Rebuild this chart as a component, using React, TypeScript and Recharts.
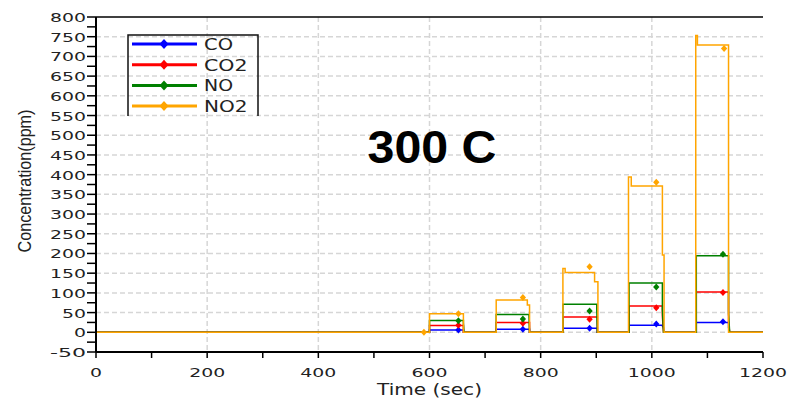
import React from 'react';
import { ComposedChart, Line, Scatter, XAxis, YAxis, CartesianGrid, ReferenceLine, Legend } from 'recharts';

const seriesNames = ['CO', 'CO2', 'NO', 'NO2'];
const seriesColors = ['#0000ff', '#ff0000', '#008000', '#ffa500'];

// step traces: [time (sec), concentration (ppm)]
const coSteps = [
  [0, 0], [600, 0], [600, 6], [661, 6], [661, 0], [720, 0], [720, 8], [780, 8], [780, 0],
  [840, 0], [840, 10], [902, 10], [902, 0], [959, 0], [959, 18], [1018, 18], [1021, 13], [1022, 0],
  [1080, 0], [1080, 25], [1138, 25], [1138, 12], [1140, 0], [1200, 0],
];
const co2Steps = [
  [0, 0], [600, 0], [600, 17], [661, 17], [661, 0], [720, 0], [720, 25], [780, 25], [780, 0],
  [840, 0], [840, 39], [902, 39], [902, 0], [959, 0], [959, 67], [1019, 67], [1019, 40], [1021, 0],
  [1080, 0], [1080, 102], [1138, 102], [1138, 26], [1140, 0], [1200, 0],
];
const noSteps = [
  [0, 0], [600, 0], [600, 30], [661, 30], [661, 24], [662, 0], [720, 0], [720, 45], [779, 45], [779, 40], [780, 0],
  [840, 0], [840, 71], [901, 71], [901, 58], [902, 0], [959, 0], [959, 125], [1019, 125], [1019, 57], [1021, 0],
  [1080, 0], [1080, 194], [1138, 194], [1138, 49], [1140, 0], [1200, 0],
];
const no2Steps = [
  [0, 0], [600, 0], [600, 47], [661, 47], [661, 0], [720, 0], [720, 82], [776, 82], [776, 69], [780, 69], [780, 0],
  [840, 0], [840, 162], [844, 162], [844, 152], [897, 152], [897, 128], [903, 128], [903, 0],
  [958, 0], [958, 394], [963, 394], [963, 371], [1019, 371], [1019, 196], [1022, 196], [1022, 0],
  [1079, 0], [1079, 753], [1082, 753], [1082, 729], [1138, 729], [1138, 0], [1200, 0],
];

// sampled marker points
const coMarks = [[652, 6], [768, 8], [888, 10], [1008, 21], [1128, 27]];
const co2Marks = [[652, 18], [768, 23], [888, 33], [1008, 62], [1128, 101]];
const noMarks = [[652, 29], [768, 34], [888, 54], [1008, 115], [1128, 198]];
const no2Marks = [[590, 0], [652, 47], [768, 88], [888, 166], [1008, 381], [1130, 720]];

const xDomain = [0, 1200];
const yDomain = [-50, 800];
const xTicks = [0, 100, 200, 300, 400, 500, 600, 700, 800, 900, 1000, 1100, 1200];
const xGridValues = [200, 400, 600, 800, 1000];
const yTicks = [
  -50, -25, 0, 25, 50, 75, 100, 125, 150, 175, 200, 225, 250, 275, 300, 325, 350, 375, 400,
  425, 450, 475, 500, 525, 550, 575, 600, 625, 650, 675, 700, 725, 750, 775, 800,
];
const yGridValues = [0, 50, 100, 150, 200, 250, 300, 350, 400, 450, 500, 550, 600, 650, 700, 750];

const toPoints = (rows: number[][]) => rows.map(([t, v]) => ({ t, v }));

const traces = [coSteps, co2Steps, noSteps, no2Steps].map(toPoints);
const marks = [coMarks, co2Marks, noMarks, no2Marks].map(toPoints);

// map a value through the axis scale handed to the grid generator
const useScale = (scale: any, v: number, fallback: () => number) => {
  if (typeof scale === 'function') return scale(v);
  if (scale && typeof scale.map === 'function') return scale.map(v);
  return fallback();
};

const wideFont = '"DejaVu Sans", Verdana, sans-serif';

const YTick = ({ x, y, payload }: any) => {
  if (payload.value % 50 !== 0) return null;
  const label = String(payload.value);
  return (
    <text x={x} y={y + 5} textAnchor="end" fontFamily={wideFont} fontSize={13} fill="#222"
      textLength={label.length * 12} lengthAdjust="spacingAndGlyphs">
      {label}
    </text>
  );
};

const XTick = ({ x, y, payload }: any) => {
  if (payload.value % 200 !== 0) return null;
  const label = String(payload.value);
  return (
    <text x={x} y={y + 17} textAnchor="middle" fontFamily={wideFont} fontSize={13} fill="#222"
      textLength={label.length * 12} lengthAdjust="spacingAndGlyphs">
      {label}
    </text>
  );
};

const XTitle = ({ viewBox }: any) => (
  <text x={viewBox.x + viewBox.width / 2} y={395} textAnchor="middle" fontFamily={wideFont}
    fontSize={15} fill="#222" textLength={105} lengthAdjust="spacingAndGlyphs">
    Time (sec)
  </text>
);

const YTitle = () => (
  <text x={0} y={0} transform="translate(31,181) rotate(-90)" textAnchor="middle"
    fontFamily="'Liberation Sans', Arial, sans-serif" fontSize={19} fill="#222"
    textLength={143} lengthAdjust="spacingAndGlyphs">
    Concentration(ppm)
  </text>
);

const diamond = (cx: number, cy: number, r: number) =>
  `M${cx},${cy - r} L${cx + r * 0.9},${cy} L${cx},${cy + r} L${cx - r * 0.9},${cy} Z`;

const Marker = ({ cx, cy, fill }: any) => <path d={diamond(cx, cy, 3.5)} fill={fill} />;

const LegendBox = () => (
  <svg width={133} height={82} style={{ display: 'block' }}>
    <path d="M1,82 V1 H131 V82" fill="none" stroke="#111" strokeWidth={1.5} />
    {seriesNames.map((name, i) => {
      const y = 10 + i * 20.7;
      return (
        <g key={name}>
          <line x1={5} x2={70} y1={y} y2={y} stroke={seriesColors[i]} strokeWidth={3} />
          <path d={diamond(37, y, 5)} fill={seriesColors[i]} />
          <text x={77} y={y + 6} fontFamily={wideFont} fontSize={15} fill="#222"
            textLength={name.length * 14.5} lengthAdjust="spacingAndGlyphs">
            {name}
          </text>
        </g>
      );
    })}
  </svg>
);

export default function App() {
  return (
    <div style={{ position: 'absolute', left: 0, top: 0, width: 788, height: 400, background: '#fff' }}>
      <ComposedChart width={788} height={400} margin={{ top: 17, right: 25, bottom: 0, left: 0 }}>
        <CartesianGrid
          stroke="#d6d6d6"
          strokeWidth={1.5}
          strokeDasharray="5 3"
          horizontalCoordinatesGenerator={(p: any) =>
            yGridValues.map((v) =>
              useScale(p.yAxis && p.yAxis.scale, v, () =>
                p.offset.top + ((yDomain[1] - v) / (yDomain[1] - yDomain[0])) * p.offset.height))
          }
          verticalCoordinatesGenerator={(p: any) =>
            xGridValues.map((v) =>
              useScale(p.xAxis && p.xAxis.scale, v, () =>
                p.offset.left + ((v - xDomain[0]) / (xDomain[1] - xDomain[0])) * p.offset.width))
          }
        />
        <XAxis
          type="number"
          dataKey="t"
          domain={xDomain}
          ticks={xTicks}
          interval={0}
          height={48}
          tick={<XTick />}
          tickSize={6}
          axisLine={{ stroke: '#000', strokeWidth: 2 }}
          tickLine={{ stroke: '#000', strokeWidth: 1.5 }}
          label={<XTitle />}
        />
        <YAxis
          type="number"
          dataKey="v"
          domain={yDomain}
          ticks={yTicks}
          interval={0}
          width={96}
          tick={<YTick />}
          tickSize={9}
          tickMargin={1}
          axisLine={{ stroke: '#000', strokeWidth: 2 }}
          tickLine={{ stroke: '#000', strokeWidth: 1.5 }}
          label={<YTitle />}
        />
        <ReferenceLine y={800} stroke="#000" strokeWidth={1.5} />
        {traces.map((pts, i) => (
          <Line
            key={seriesNames[i]}
            data={pts}
            dataKey="v"
            type="linear"
            stroke={seriesColors[i]}
            strokeWidth={1.5}
            dot={false}
            activeDot={false}
            legendType="none"
            isAnimationActive={false}
          />
        ))}
        {marks.map((pts, i) => (
          <Scatter
            key={seriesNames[i] + '-m'}
            data={pts}
            fill={seriesColors[i]}
            shape={<Marker />}
            legendType="none"
            isAnimationActive={false}
          />
        ))}
        <Legend
          layout="horizontal"
          align="center"
          verticalAlign="middle"
          content={() => <LegendBox />}
          wrapperStyle={{ position: 'absolute', left: 127, top: 34, width: 133, height: 82 }}
        />
      </ComposedChart>
      <svg width={788} height={400} style={{ position: 'absolute', left: 0, top: 0, pointerEvents: 'none' }}>
        <text x={432} y={163} textAnchor="middle" fontFamily="'Liberation Sans', Arial, sans-serif"
          fontWeight="bold" fontSize={46} fill="#000" textLength={129} lengthAdjust="spacingAndGlyphs">
          300 C
        </text>
      </svg>
    </div>
  );
}
